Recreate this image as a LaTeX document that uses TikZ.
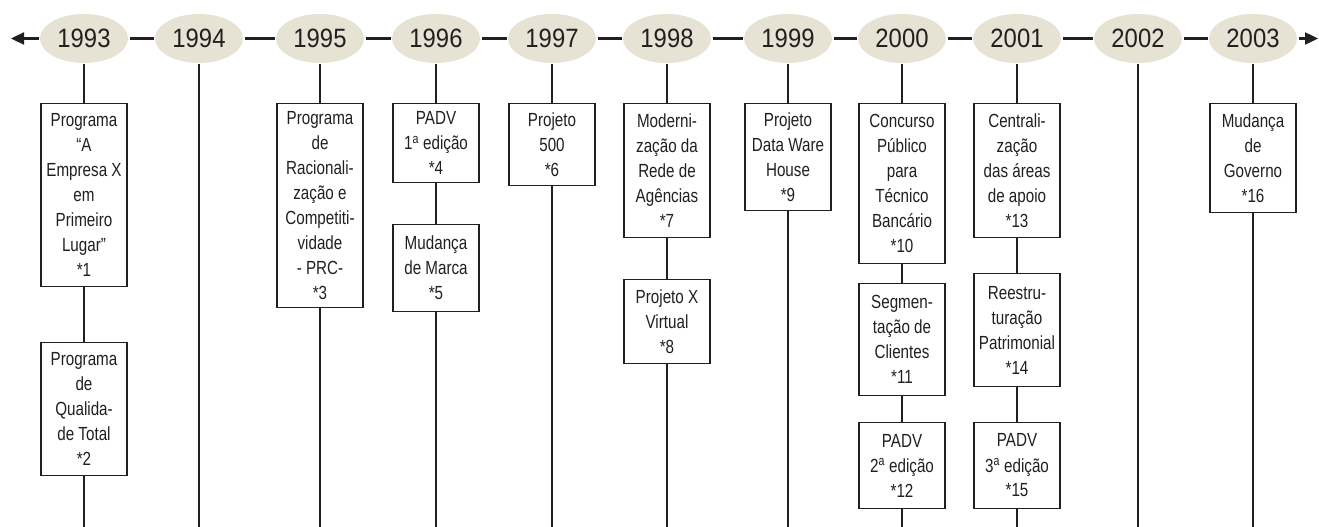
\documentclass[tikz,border=0pt]{standalone}
\usepackage{fontspec}
\setmainfont{Liberation Sans}
\newfontfamily\boxfont{Liberation Sans}[FakeStretch=0.8]
\newfontfamily\yearfont{Liberation Sans}[FakeStretch=0.9]
\usetikzlibrary{shapes.geometric,arrows.meta}
\definecolor{ink}{HTML}{231F20}
\definecolor{beige}{HTML}{E6E2D4}
\begin{document}
\begin{tikzpicture}[x=1pt,y=-1pt,
  year/.style={ellipse, fill=beige, minimum width=88pt, minimum height=49pt,
    inner sep=0pt, outer sep=1.5pt, text=ink,
    font=\yearfont\fontsize{26.5}{30}\selectfont},
  evt/.style={draw=ink, line width=1.1pt, fill=white, minimum width=86pt,
    inner xsep=2pt, inner ysep=2pt, align=center, anchor=north, text=ink,
    font=\boxfont\fontsize{19}{25}\selectfont},
  link/.style={draw=ink, line width=2.5pt},
  hlink/.style={draw=ink, line width=2.3pt}]
\useasboundingbox (0,0) rectangle (1319,527);

% year ellipses
\node[year] (y1993) at (84,38.5) {1993};
\node[year] (y1994) at (199,38.5) {1994};
\node[year] (y1995) at (320,38.5) {1995};
\node[year] (y1996) at (436,38.5) {1996};
\node[year] (y1997) at (552,38.5) {1997};
\node[year] (y1998) at (667,38.5) {1998};
\node[year] (y1999) at (788,38.5) {1999};
\node[year] (y2000) at (902,38.5) {2000};
\node[year] (y2001) at (1017,38.5) {2001};
\node[year] (y2002) at (1138,38.5) {2002};
\node[year] (y2003) at (1253,38.5) {2003};

% arrow ends
\coordinate (lt) at (11,38.5);
\coordinate (rt) at (1318,38.5);
\draw[hlink,-{Triangle[length=13pt,width=12pt]}] (y1993.west) -- (lt);
\draw[hlink,-{Triangle[length=13pt,width=12pt]}] (y2003.east) -- (rt);
\draw[hlink] (y1993.east) -- (y1994.west);
\draw[hlink] (y1994.east) -- (y1995.west);
\draw[hlink] (y1995.east) -- (y1996.west);
\draw[hlink] (y1996.east) -- (y1997.west);
\draw[hlink] (y1997.east) -- (y1998.west);
\draw[hlink] (y1998.east) -- (y1999.west);
\draw[hlink] (y1999.east) -- (y2000.west);
\draw[hlink] (y2000.east) -- (y2001.west);
\draw[hlink] (y2001.east) -- (y2002.west);
\draw[hlink] (y2002.east) -- (y2003.west);

% bottom ends
\coordinate (e1993) at (84,527);
\coordinate (e1994) at (199,527);
\coordinate (e1995) at (320,527);
\coordinate (e1996) at (436,527);
\coordinate (e1997) at (552,527);
\coordinate (e1998) at (667,527);
\coordinate (e1999) at (788,527);
\coordinate (e2000) at (902,527);
\coordinate (e2001) at (1017,527);
\coordinate (e2002) at (1138,527);
\coordinate (e2003) at (1253,527);

% event boxes
\node[evt, minimum height=183pt] (b1) at (84,103) {Programa\\“A\\Empresa X\\em\\Primeiro\\Lugar”\\*1};
\node[evt, minimum height=133pt] (b2) at (84,342) {Programa\\de\\Qualida-\\de Total\\*2};
\node[evt, minimum height=204pt] (b3) at (320,103) {Programa\\de\\Racionali-\\zação e\\Competiti-\\vidade\\- PRC-\\*3};
\node[evt, minimum height=79pt] (b4) at (436,103) {PADV\\1\textsuperscript{a} edição\\*4};
\node[evt, minimum height=87pt] (b5) at (436,224) {Mudança\\de Marca\\*5};
\node[evt, minimum height=82pt] (b6) at (552,103) {Projeto\\500\\*6};
\node[evt, minimum height=134pt] (b7) at (667,103) {Moderni-\\zação da\\Rede de\\Agências\\*7};
\node[evt, minimum height=84pt] (b8) at (667,279) {Projeto X\\Virtual\\*8};
\node[evt, minimum height=107pt] (b9) at (788,103) {Projeto\\Data Ware\\House\\*9};
\node[evt, minimum height=160pt] (b10) at (902,103) {Concurso\\Público\\para\\Técnico\\Bancário\\*10};
\node[evt, minimum height=112pt] (b11) at (902,283) {Segmen-\\tação de\\Clientes\\*11};
\node[evt, minimum height=86pt] (b12) at (902,422) {PADV\\2\textsuperscript{a} edição\\*12};
\node[evt, minimum height=134pt] (b13) at (1017,103) {Centrali-\\zação\\das áreas\\de apoio\\*13};
\node[evt, minimum height=113pt] (b14) at (1017,273) {Reestru-\\turação\\Patrimonial\\*14};
\node[evt, minimum height=86pt] (b15) at (1017,422) {PADV\\3\textsuperscript{a} edição\\*15};
\node[evt, minimum height=109pt] (b16) at (1253,103) {Mudança\\de\\Governo\\*16};

% vertical connectors
\draw[link] (y1993.south) -- (b1.north);
\draw[link] (b1.south) -- (b2.north);
\draw[link] (b2.south) -- (e1993);
\draw[link] (y1994.south) -- (e1994);
\draw[link] (y1995.south) -- (b3.north);
\draw[link] (b3.south) -- (e1995);
\draw[link] (y1996.south) -- (b4.north);
\draw[link] (b4.south) -- (b5.north);
\draw[link] (b5.south) -- (e1996);
\draw[link] (y1997.south) -- (b6.north);
\draw[link] (b6.south) -- (e1997);
\draw[link] (y1998.south) -- (b7.north);
\draw[link] (b7.south) -- (b8.north);
\draw[link] (b8.south) -- (e1998);
\draw[link] (y1999.south) -- (b9.north);
\draw[link] (b9.south) -- (e1999);
\draw[link] (y2000.south) -- (b10.north);
\draw[link] (b10.south) -- (b11.north);
\draw[link] (b11.south) -- (b12.north);
\draw[link] (b12.south) -- (e2000);
\draw[link] (y2001.south) -- (b13.north);
\draw[link] (b13.south) -- (b14.north);
\draw[link] (b14.south) -- (b15.north);
\draw[link] (b15.south) -- (e2001);
\draw[link] (y2002.south) -- (e2002);
\draw[link] (y2003.south) -- (b16.north);
\draw[link] (b16.south) -- (e2003);
\end{tikzpicture}
\end{document}
